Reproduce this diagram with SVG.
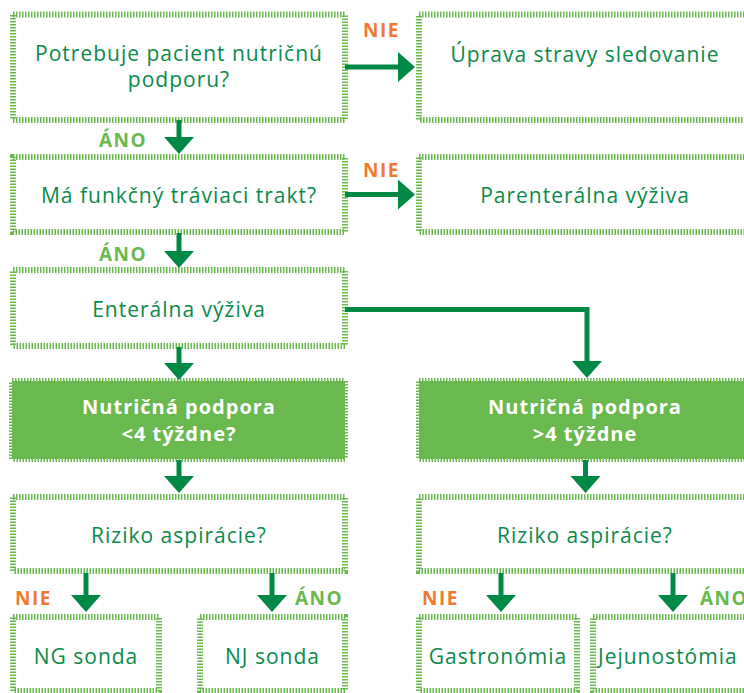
<svg xmlns="http://www.w3.org/2000/svg" width="744" height="693" viewBox="0 0 744 693">
<style>
.tb{fill:#ffffff;stroke:#6ab94f;stroke-width:6;stroke-dasharray:1.5 1.5}
.gb{fill:#6ab94f;stroke:#6ab94f;stroke-width:6;stroke-dasharray:1.5 1.5}
.t{font-family:"Open Sans","Liberation Sans",sans-serif;font-size:21px;letter-spacing:1px;fill:#0a8a4c;text-anchor:middle}
.w{font-family:"Open Sans","Liberation Sans",sans-serif;font-size:20px;letter-spacing:1px;font-weight:bold;fill:#ffffff;text-anchor:middle}
.nie{font-family:"Open Sans","Liberation Sans",sans-serif;font-size:19px;letter-spacing:1.5px;font-weight:bold;fill:#f07a32}
.ano{font-family:"Open Sans","Liberation Sans",sans-serif;font-size:19px;letter-spacing:1.5px;font-weight:bold;fill:#6ab94f}
.c{fill:none;stroke:#008845;stroke-width:5}
</style>
<defs>
<marker id="ah" viewBox="0 0 17 30" refX="0" refY="15" markerWidth="17" markerHeight="30" markerUnits="userSpaceOnUse" orient="auto">
<path d="M0,0 L17,15 L0,30 Z" fill="#008845"/>
</marker>
</defs>
<rect width="744" height="693" fill="#ffffff"/>

<g id="n1"><rect class="tb" x="13" y="14.5" width="332" height="105.5"/><text class="t" x="179" y="61">Potrebuje pacient nutričnú</text><text class="t" x="179" y="87">podporu?</text></g>
<g id="n2"><rect class="tb" x="419" y="14.5" width="340" height="105.5"/><text class="t" x="585" y="62">Úprava stravy sledovanie</text></g>
<g id="n3"><rect class="tb" x="13" y="157" width="332" height="75"/><text class="t" x="179" y="203">Má funkčný tráviaci trakt?</text></g>
<g id="n4"><rect class="tb" x="419" y="157" width="340" height="75"/><text class="t" x="585" y="203">Parenterálna výživa</text></g>
<g id="n5"><rect class="tb" x="13" y="270" width="332" height="76"/><text class="t" x="179" y="317">Enterálna výživa</text></g>
<g id="n6"><rect class="gb" x="12" y="381" width="333" height="78"/><text class="w" x="179" y="414">Nutričná podpora</text><text class="w" x="179" y="441">&lt;4 týždne?</text></g>
<g id="n7"><rect class="gb" x="419" y="381" width="340" height="78"/><text class="w" x="585" y="414">Nutričná podpora</text><text class="w" x="585" y="441">&gt;4 týždne</text></g>
<g id="n8"><rect class="tb" x="13" y="497" width="332" height="74"/><text class="t" x="179" y="543">Riziko aspirácie?</text></g>
<g id="n9"><rect class="tb" x="419" y="497" width="340" height="74"/><text class="t" x="585" y="543">Riziko aspirácie?</text></g>
<g id="n10"><rect class="tb" x="13" y="617" width="146" height="74"/><text class="t" x="86" y="664">NG sonda</text></g>
<g id="n11"><rect class="tb" x="200" y="617" width="145" height="74"/><text class="t" x="272.5" y="664">NJ sonda</text></g>
<g id="n12"><rect class="tb" x="419" y="617" width="158" height="74"/><text class="t" x="498" y="664">Gastronómia</text></g>
<g id="n13"><rect class="tb" x="593" y="617" width="166" height="74"/><text class="t" x="598" y="664" style="text-anchor:start">Jejunostómia</text></g>

<g id="connectors">
<line class="c" x1="179" y1="120" x2="179" y2="137" marker-end="url(#ah)"/>
<line class="c" x1="345" y1="67" x2="398" y2="67" marker-end="url(#ah)"/>
<line class="c" x1="345" y1="194.5" x2="398" y2="194.5" marker-end="url(#ah)"/>
<line class="c" x1="179" y1="233" x2="179" y2="251" marker-end="url(#ah)"/>
<line class="c" x1="179" y1="347" x2="179" y2="363" marker-end="url(#ah)"/>
<path class="c" d="M345,309.5 H587 V361" marker-end="url(#ah)"/>
<line class="c" x1="179" y1="460" x2="179" y2="476" marker-end="url(#ah)"/>
<line class="c" x1="585.5" y1="460" x2="585.5" y2="476" marker-end="url(#ah)"/>
<line class="c" x1="86" y1="573" x2="86" y2="595" marker-end="url(#ah)"/>
<line class="c" x1="272" y1="573" x2="272" y2="595" marker-end="url(#ah)"/>
<line class="c" x1="501" y1="573" x2="501" y2="595" marker-end="url(#ah)"/>
<line class="c" x1="673" y1="573" x2="673" y2="595" marker-end="url(#ah)"/>
</g>

<g id="labels">
<text class="nie" x="363" y="37">NIE</text>
<text class="nie" x="363" y="177">NIE</text>
<text class="ano" x="99" y="147">ÁNO</text>
<text class="ano" x="99" y="261">ÁNO</text>
<text class="nie" x="15" y="605">NIE</text>
<text class="ano" x="295" y="605">ÁNO</text>
<text class="nie" x="422" y="605">NIE</text>
<text class="ano" x="700" y="605">ÁNO</text>
</g>
</svg>
